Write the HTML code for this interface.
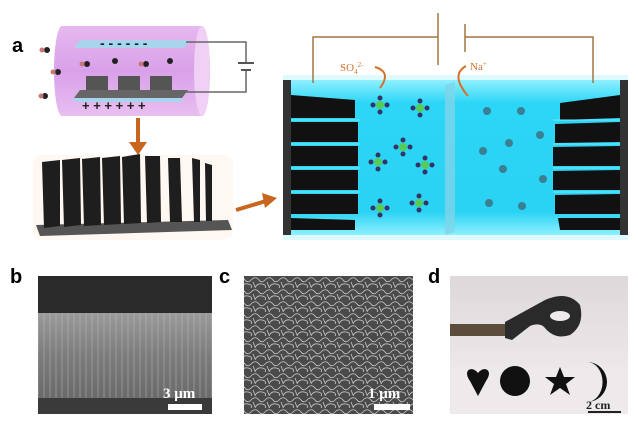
<!DOCTYPE html>
<html><head><style>html,body{margin:0;padding:0;background:#fff}svg{display:block}</style></head><body>
<svg width="638" height="434" viewBox="0 0 638 434" xmlns="http://www.w3.org/2000/svg" font-family="Liberation Sans, sans-serif">
<defs>
<linearGradient id="cyl" x1="0" y1="0" x2="0" y2="1"><stop offset="0" stop-color="#e7b8ef"/><stop offset="0.5" stop-color="#d9a0ea"/><stop offset="1" stop-color="#e8bff0"/></linearGradient>
<linearGradient id="water" x1="0" y1="0" x2="0" y2="1"><stop offset="0" stop-color="#8ff0ff"/><stop offset="0.15" stop-color="#2cd6f6"/><stop offset="0.85" stop-color="#2ad2f4"/><stop offset="1" stop-color="#8ef0ff"/></linearGradient>
<linearGradient id="fib" x1="0" y1="313" x2="0" y2="398" gradientUnits="userSpaceOnUse"><stop offset="0" stop-color="#9a9a9a"/><stop offset="0.5" stop-color="#7c7c7c"/><stop offset="1" stop-color="#6a6a6a"/></linearGradient>
<linearGradient id="dtop" x1="0" y1="0" x2="0" y2="1"><stop offset="0" stop-color="#ddd8da"/><stop offset="1" stop-color="#ece8ea"/></linearGradient>
<pattern id="wr" width="14" height="12" patternUnits="userSpaceOnUse"><rect width="14" height="12" fill="#4a4a4a"/><path d="M0 3 Q4 0 7 4 T14 3 M3 12 Q5 7 10 8 T13 12 M1 6 L3 11" stroke="#c8c8c8" stroke-width="0.8" fill="none"/></pattern>
<pattern id="fl" width="6" height="434" patternUnits="userSpaceOnUse"><line x1="2" y1="0" x2="2" y2="434" stroke="#c4c4c4" stroke-width="0.7" opacity="0.6"/></pattern>
</defs>
<text x="12" y="52" font-size="20" font-weight="bold">a</text>
<path d="M62 26 H202 A8 45 0 0 1 202 116 H62 A8 45 0 0 1 62 26Z" fill="url(#cyl)"/>
<ellipse cx="202" cy="71" rx="8" ry="45" fill="#f0d0f5"/>
<polygon points="80,40 190,40 184,48 74,48" fill="#a8d4ee"/>
<text x="100" y="48" font-size="14" font-weight="bold" fill="#222">- - - - - -</text>
<rect x="86" y="76" width="22" height="14" fill="#555"/><rect x="118" y="76" width="22" height="14" fill="#555"/><rect x="150" y="76" width="22" height="14" fill="#555"/>
<polygon points="80,90 188,90 182,98 74,98" fill="#666"/>
<polygon points="74,98 182,98 182,102 74,102" fill="#a8d4ee"/>
<text x="82" y="110" font-size="13" font-weight="bold" fill="#222">+ + + + + +</text>
<path d="M186 42 H246 V62 M246 70 V92 H184" stroke="#666" stroke-width="1.5" fill="none"/>
<line x1="238" y1="63" x2="254" y2="63" stroke="#555" stroke-width="2"/><line x1="241" y1="70" x2="251" y2="70" stroke="#555" stroke-width="2"/>
<g fill="#222"><circle cx="47" cy="50" r="3"/><circle cx="58" cy="72" r="3"/><circle cx="45" cy="96" r="3"/><circle cx="87" cy="64" r="3"/><circle cx="115" cy="61" r="3"/><circle cx="146" cy="64" r="3"/><circle cx="170" cy="61" r="3"/></g>
<g fill="#c77"><circle cx="42" cy="50" r="2.5"/><circle cx="53" cy="72" r="2.5"/><circle cx="41" cy="96" r="2.5"/><circle cx="82" cy="64" r="2.5"/><circle cx="141" cy="64" r="2.5"/></g>
<line x1="138" y1="118" x2="138" y2="145" stroke="#c8651e" stroke-width="4"/><polygon points="129,142 147,142 138,155" fill="#c8651e"/>
<rect x="33" y="155" width="200" height="85" fill="#fdf0e6" opacity="0.5" rx="10"/>
<polygon points="36,225 228,220 232,230 40,236" fill="#555"/>
<g fill="#1e1e1e">
<path d="M42 162 L60 160 L60 226 L44 228Z"/><path d="M62 160 L80 158 L81 225 L64 227Z"/><path d="M82 159 L100 157 L101 225 L84 226Z"/><path d="M102 158 L120 156 L121 224 L104 225Z"/><path d="M122 157 L140 154 L141 223 L124 224Z"/><path d="M145 156 L160 156 L161 222 L147 223Z"/><path d="M168 158 L180 158 L182 222 L170 222Z"/><path d="M192 158 L200 160 L200 222 L194 222Z"/><path d="M205 163 L212 165 L212 221 L206 221Z"/>
</g>
<line x1="236" y1="210" x2="266" y2="201" stroke="#c8651e" stroke-width="4"/><polygon points="262,193 277,198 265,208" fill="#c8651e"/>
<rect x="283" y="75" width="345" height="165" fill="#c8f6ff" opacity="0.6"/>
<rect x="285" y="80" width="341" height="155" fill="url(#water)"/>
<rect x="283" y="80" width="8" height="155" fill="#333"/>
<rect x="620" y="80" width="8" height="155" fill="#333"/>
<polygon points="445,85 455,82 455,232 445,235" fill="#7fd5ea" opacity="0.8"/>
<g fill="#111">
<polygon points="291,95 355,100 355,118 291,118"/><polygon points="291,122 358,122 358,142 291,142"/><polygon points="291,146 358,146 358,166 291,166"/><polygon points="291,170 358,170 358,190 291,190"/><polygon points="291,194 358,194 358,214 291,214"/><polygon points="291,218 355,220 355,230 291,230"/>
<polygon points="620,95 560,103 560,120 620,118"/><polygon points="620,122 555,124 555,143 620,142"/><polygon points="620,146 553,147 553,166 620,166"/><polygon points="620,170 553,171 553,190 620,190"/><polygon points="620,194 555,195 555,214 620,214"/><polygon points="620,218 558,218 560,230 620,230"/>
</g>
<g stroke="#7fe6f8" stroke-width="1"><line x1="291" y1="120" x2="360" y2="120"/><line x1="291" y1="144" x2="360" y2="144"/><line x1="291" y1="168" x2="360" y2="168"/><line x1="291" y1="192" x2="360" y2="192"/><line x1="553" y1="120" x2="620" y2="120"/><line x1="553" y1="144" x2="620" y2="144"/><line x1="553" y1="168" x2="620" y2="168"/><line x1="553" y1="192" x2="620" y2="192"/></g>
<path d="M313 83 V37 H438 V65 M438 13 V37" stroke="#a0773f" stroke-width="1.5" fill="none"/>
<path d="M465 24 V52 M465 37 H593 V83" stroke="#a0773f" stroke-width="1.5" fill="none"/>
<text x="340" y="71" font-size="11" fill="#d4702a" font-family="Liberation Serif, serif">SO<tspan font-size="7" dy="3">4</tspan><tspan font-size="7" dy="-7">2-</tspan></text>
<path d="M375 67 Q392 72 380 88" stroke="#d4702a" stroke-width="2" fill="none"/>
<text x="470" y="70" font-size="11" fill="#d4702a" font-family="Liberation Serif, serif">Na<tspan font-size="7" dy="-4">+</tspan></text>
<path d="M466 66 Q450 75 468 96" stroke="#d4702a" stroke-width="2" fill="none"/>
<g>
<g transform="translate(380,105)"><circle r="4" fill="#5c5"/><circle cx="-7" r="2.5" fill="#336"/><circle cx="7" r="2.5" fill="#336"/><circle cy="-7" r="2.5" fill="#336"/><circle cy="7" r="2.5" fill="#336"/></g>
<g transform="translate(420,108)"><circle r="4" fill="#5c5"/><circle cx="-7" r="2.5" fill="#336"/><circle cx="7" r="2.5" fill="#336"/><circle cy="-7" r="2.5" fill="#336"/><circle cy="7" r="2.5" fill="#336"/></g>
<g transform="translate(403,147)"><circle r="4" fill="#5c5"/><circle cx="-7" r="2.5" fill="#336"/><circle cx="7" r="2.5" fill="#336"/><circle cy="-7" r="2.5" fill="#336"/><circle cy="7" r="2.5" fill="#336"/></g>
<g transform="translate(378,162)"><circle r="4" fill="#5c5"/><circle cx="-7" r="2.5" fill="#336"/><circle cx="7" r="2.5" fill="#336"/><circle cy="-7" r="2.5" fill="#336"/><circle cy="7" r="2.5" fill="#336"/></g>
<g transform="translate(425,165)"><circle r="4" fill="#5c5"/><circle cx="-7" r="2.5" fill="#336"/><circle cx="7" r="2.5" fill="#336"/><circle cy="-7" r="2.5" fill="#336"/><circle cy="7" r="2.5" fill="#336"/></g>
<g transform="translate(380,208)"><circle r="4" fill="#5c5"/><circle cx="-7" r="2.5" fill="#336"/><circle cx="7" r="2.5" fill="#336"/><circle cy="-7" r="2.5" fill="#336"/><circle cy="7" r="2.5" fill="#336"/></g>
<g transform="translate(419,203)"><circle r="4" fill="#5c5"/><circle cx="-7" r="2.5" fill="#336"/><circle cx="7" r="2.5" fill="#336"/><circle cy="-7" r="2.5" fill="#336"/><circle cy="7" r="2.5" fill="#336"/></g>
</g>
<g fill="#3a7f94"><circle cx="487" cy="111" r="4"/><circle cx="521" cy="111" r="4"/><circle cx="509" cy="143" r="4"/><circle cx="483" cy="151" r="4"/><circle cx="503" cy="169" r="4"/><circle cx="540" cy="135" r="4"/><circle cx="543" cy="179" r="4"/><circle cx="489" cy="203" r="4"/><circle cx="522" cy="206" r="4"/></g>
<text x="10" y="283" font-size="20" font-weight="bold">b</text>
<rect x="38" y="276" width="174" height="138" fill="#2a2a2a"/>
<rect x="38" y="313" width="174" height="85" fill="url(#fib)"/>
<rect x="38" y="313" width="174" height="85" fill="url(#fl)"/>
<rect x="38" y="398" width="174" height="16" fill="#3a3a3a"/>
<text x="163" y="398" font-size="15" font-weight="bold" fill="#fff" font-family="Liberation Serif, serif">3 μm</text>
<rect x="168" y="404" width="34" height="6" fill="#fff"/>
<text x="219" y="283" font-size="20" font-weight="bold">c</text>
<rect x="244" y="276" width="169" height="138" fill="url(#wr)"/>
<text x="368" y="398" font-size="15" font-weight="bold" fill="#fff" font-family="Liberation Serif, serif">1 μm</text>
<rect x="374" y="404" width="36" height="6" fill="#fff"/>
<text x="428" y="283" font-size="20" font-weight="bold">d</text>
<rect x="450" y="276" width="178" height="138" fill="#eeeaec"/>
<rect x="450" y="276" width="178" height="92" fill="url(#dtop)"/>
<rect x="450" y="324" width="60" height="12" fill="#5b4c3c"/>
<path d="M505 322 L545 300 Q568 290 580 305 Q585 325 570 335 Q555 340 545 328 Q540 322 530 326 L512 340 L505 338Z" fill="#2a2a2a"/>
<ellipse cx="560" cy="316" rx="10" ry="5" fill="#eeeaec"/>
<path d="M470 381 C462 370 472 365 478 373 C484 365 494 370 486 381 L478 396Z" fill="#111"/>
<circle cx="515" cy="381" r="15" fill="#111"/>
<polygon points="560,367 564,377 575,377 566,384 570,395 560,388 550,395 554,384 545,377 556,377" fill="#111"/>
<path d="M587 362 A20 20 0 0 1 587 402 A14 18 0 0 0 587 362Z" fill="#111"/>
<text x="586" y="409" font-size="12" font-weight="bold" fill="#222" font-family="Liberation Serif, serif">2 cm</text>
<rect x="588" y="411" width="33" height="2" fill="#222"/>
</svg>
</body></html>
